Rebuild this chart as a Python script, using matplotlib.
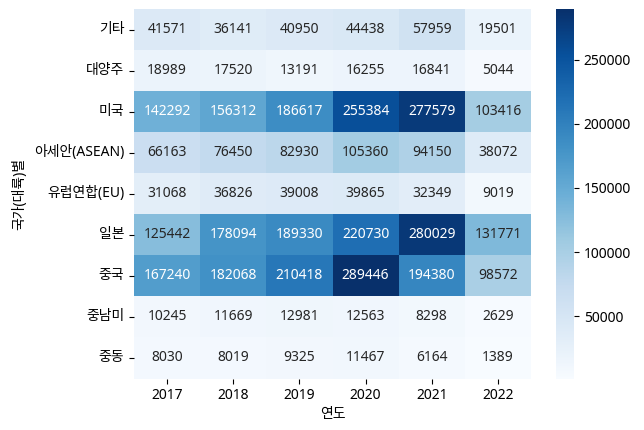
import numpy as np
import matplotlib
matplotlib.use("Agg")
import matplotlib.pyplot as plt
import seaborn as sns

# latin + digits from Noto Sans, hangul falls through to the CJK family
plt.rcParams['font.family'] = ['Noto Sans', 'Noto Sans CJK KR', 'DejaVu Sans']
plt.rcParams['font.weight'] = 'light'

regions = ["기타", "대양주", "미국", "아세안(ASEAN)", "유럽연합(EU)", "일본", "중국", "중남미", "중동"]
years = [2017, 2018, 2019, 2020, 2021, 2022]

etc = [41571, 36141, 40950, 44438, 57959, 19501]
oceania = [18989, 17520, 13191, 16255, 16841, 5044]
usa = [142292, 156312, 186617, 255384, 277579, 103416]
asean = [66163, 76450, 82930, 105360, 94150, 38072]
eu = [31068, 36826, 39008, 39865, 32349, 9019]
japan = [125442, 178094, 189330, 220730, 280029, 131771]
china = [167240, 182068, 210418, 289446, 194380, 98572]
latam = [10245, 11669, 12981, 12563, 8298, 2629]
mideast = [8030, 8019, 9325, 11467, 6164, 1389]

values = np.array([etc, oceania, usa, asean, eu, japan, china, latam, mideast])

W, H = 644.0, 430.0
fig = plt.figure(figsize=(W / 100, H / 100), dpi=100)
ax = fig.add_axes([134 / W, 1 - 378.5 / H, 397 / W, 369.5 / H])
cax = fig.add_axes([556 / W, 1 - 378.5 / H, 18 / W, 369.5 / H])

sns.heatmap(values, annot=True, fmt="d", cmap="Blues", ax=ax, cbar_ax=cax,
            xticklabels=years, yticklabels=regions, annot_kws={"fontsize": 10})
ax.set_xlabel("연도", fontsize=10, labelpad=3)
ax.set_ylabel("국가(대륙)별", fontsize=10, labelpad=5)
ax.tick_params(axis="y", rotation=0)
cax.tick_params(labelsize=10)
fig.savefig("out.png", dpi=100)
